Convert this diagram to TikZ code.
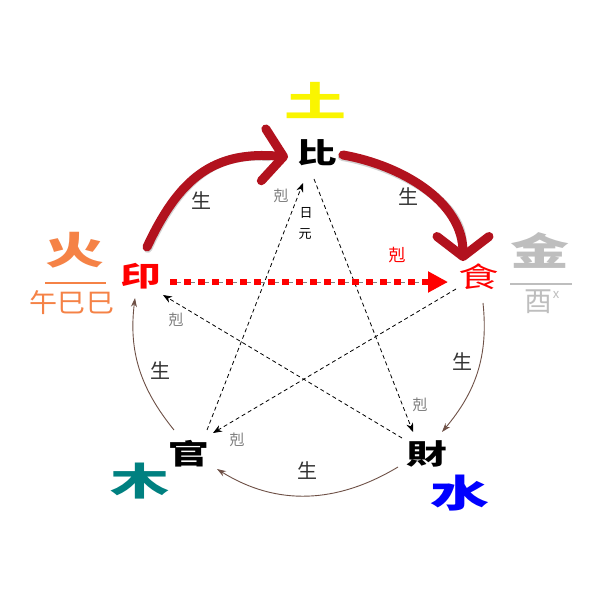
\documentclass[tikz,border=0pt]{standalone}
\usepackage{fontspec}
\usetikzlibrary{arrows.meta}
\newfontfamily\cjk{Noto Sans CJK TC}
\newfontfamily\cjkw[FakeStretch=1.45]{Noto Sans CJK TC}
\newfontfamily\cjkel[FakeStretch=1.55]{Noto Sans CJK TC}
\newfontfamily\cjkn[FakeStretch=1.08]{Noto Sans CJK TC}
\definecolor{arcred}{RGB}{178,18,30}
\definecolor{sheng}{RGB}{110,80,70}
\definecolor{fireor}{RGB}{245,130,70}
\definecolor{metalgr}{RGB}{190,190,190}
\definecolor{woodtl}{RGB}{0,128,128}
\definecolor{earthyl}{RGB}{250,245,0}
\begin{document}
\begin{tikzpicture}[x=1pt,y=1pt,
  big/.style={font=\cjkw\bfseries\fontsize{28}{28}\selectfont, inner sep=0pt},
  elem/.style={font=\cjkel\bfseries\fontsize{38}{38}\selectfont, inner sep=0pt},
  shenglbl/.style={font=\cjk\fontsize{20}{20}\selectfont, text=black!80, inner sep=0pt},
  kelbl/.style={font=\cjk\fontsize{15}{15}\selectfont, text=gray, inner sep=0pt},
  shengarc/.style={draw=sheng, line width=0.9pt, -{Stealth[length=9pt,width=6pt]}},
  kearrow/.style={draw=black, line width=0.8pt, dash pattern=on 4pt off 3pt, -{Stealth[length=9pt,width=7pt]}},
  bigarc/.style={draw=arcred, line width=9pt, line cap=round, -{Straight Barb[length=20pt,width=52pt,round]}},
  bigshadow/.style={draw=gray!35, line width=9pt, line cap=round, shorten >=20pt}
]
\fill[white] (0,0) rectangle (600,600);
\useasboundingbox (0,0) rectangle (600,600);

% main nodes
\node[big] (bi) at (317,447) {比};
\node[big, text=red] (yin) at (141,324) {印};
\node[big, text=red, font=\cjkw\fontsize{28}{28}\selectfont] (shi) at (479,323) {食};
\node[big] (guan) at (189,146) {官};
\node[big] (cai) at (427,146) {財};

% element labels
\node[elem, text=earthyl, font=\cjkel\bfseries\fontsize{40}{40}\selectfont] (tu) at (315,499) {土};
\node[elem, text=fireor] (huo) at (75,350) {火};
\draw[fireor, line width=2.5pt] (45,317) -- (106,317);
\node[font=\cjkn\fontsize{26}{26}\selectfont, text=fireor, inner sep=0pt] (wusi) at (72,297) {午巳巳};
\node[elem, text=metalgr] (jin) at (540,350) {金};
\draw[metalgr, line width=2.5pt] (510,316) -- (572,316);
\node[font=\cjk\fontsize{28}{28}\selectfont, text=metalgr, inner sep=0pt] (you) at (538,298) {酉};
\node[font=\cjk\fontsize{13}{13}\selectfont, text=metalgr, inner sep=0pt] (xmark) at (556,305) {x};
\node[elem, text=woodtl] (mu) at (140,119) {木};
\node[elem, text=blue] (shui) at (460,107) {水};

% connector end points
\coordinate (r1s) at (147,353);
\coordinate (r1e) at (288,443);
\coordinate (r2s) at (343,445);
\coordinate (r2e) at (463,339);
\coordinate (b1s) at (483,297);
\coordinate (b1e) at (442,168);
\coordinate (b2s) at (398,133);
\coordinate (b2e) at (217,131);
\coordinate (b3s) at (174,170);
\coordinate (b3e) at (135,302);
\coordinate (k1s) at (207,170);
\coordinate (k1e) at (303,417);
\coordinate (k2s) at (314,421);
\coordinate (k2e) at (413,168);
\coordinate (k3s) at (402,162);
\coordinate (k3e) at (163,305);
\coordinate (k4s) at (456,311);
\coordinate (k4e) at (213,167);
\coordinate (k5s) at (170,318);
\coordinate (k5e) at (448,318);

% big red arcs (sheng)
\draw[bigshadow, transform canvas={shift={(0.8pt,-1.4pt)}}] (r1s) to[out=65,in=175,looseness=1.15] (r1e);
\draw[bigshadow, transform canvas={shift={(-0.8pt,-1.4pt)}}] (r2s) to[out=-10,in=90,looseness=0.95] (r2e);
\draw[bigarc] (r1s) to[out=65,in=175,looseness=1.15] (r1e);
\draw[bigarc] (r2s) to[out=-10,in=90,looseness=0.95] (r2e);

% thin brown arcs (sheng)
\draw[shengarc] (b1s) to[out=-84,in=50] (b1e);
\draw[shengarc] (b2s) to[out=-149,in=-32] (b2e);
\draw[shengarc] (b3s) to[out=129,in=-97] (b3e);

% dashed ke arrows
\draw[kearrow] (k1s) -- (k1e);
\draw[kearrow] (k2s) -- (k2e);
\draw[kearrow] (k3s) -- (k3e);
\draw[kearrow] (k4s) -- (k4e);
\draw[gray, line width=0.8pt, dash pattern=on 4pt off 3pt] (k5s) -- (k5e);
\draw[red, line width=6pt, dash pattern=on 7pt off 7pt, -{Triangle[length=20pt,width=20pt]}] (k5s) -- (k5e);

% labels
\node[shenglbl] (s1) at (201,399) {生};
\node[shenglbl] (s2) at (408,403) {生};
\node[shenglbl] (s3) at (160,229) {生};
\node[shenglbl] (s4) at (462,238) {生};
\node[shenglbl] (s5) at (307,129) {生};
\node[kelbl] (q1) at (281,404) {剋};
\node[kelbl] (q2) at (176,280) {剋};
\node[kelbl] (q3) at (420,195) {剋};
\node[kelbl] (q4) at (237,160) {剋};
\node[font=\cjk\fontsize{17}{17}\selectfont, text=red, inner sep=0pt] (q5) at (397,345) {剋};
\node[font=\cjk\fontsize{13}{13}\selectfont, inner sep=0pt] (ri) at (306,387) {日};
\node[font=\cjk\fontsize{13}{13}\selectfont, inner sep=0pt] (yuan) at (305,366) {元};
\end{tikzpicture}
\end{document}
